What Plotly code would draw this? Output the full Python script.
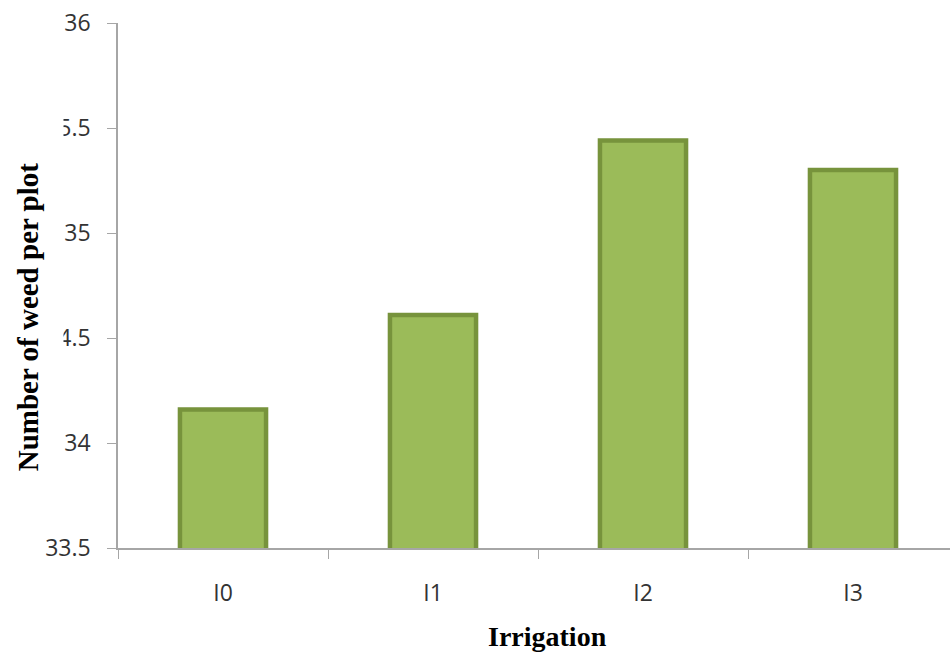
import plotly.graph_objects as go

categories = ["I0", "I1", "I2", "I3"]
weeds = [34.16, 34.61, 35.44, 35.30]
y_ticks = [33.5, 34, 34.5, 35, 35.5, 36]
y_ticktext = ["33.5", "34", "34.5", "35", "35.5", "36"]

W, H = 950, 655
ML, MR, MT, MB = 118, 0, 23, 107
pw = W - ML - MR
ph = H - MT - MB

fig = go.Figure(go.Bar(
    x=categories, y=weeds, width=0.41,
    marker=dict(color="#9BBB59", line=dict(color="#77933C", width=4.5)),
))

fig.update_layout(
    width=W, height=H,
    margin=dict(l=ML, r=MR, t=MT, b=MB, autoexpand=False),
    plot_bgcolor="white", paper_bgcolor="white",
    showlegend=False,
    xaxis=dict(
        type="category", range=[-0.5, -0.5 + pw / 210.0], automargin=False,
        tickson="boundaries", ticks="outside", ticklen=9, tickcolor="#A6A6A6",
        showline=True, linecolor="#A6A6A6", linewidth=1.5, showgrid=False,
        tickfont=dict(family="Open Sans", size=23, color="#333333"),
        ticklabelstandoff=24,
    ),
    yaxis=dict(
        range=[33.5, 36], tickvals=y_ticks, ticktext=y_ticktext, automargin=False,
        ticks="outside", ticklen=9, tickcolor="#A6A6A6",
        showline=True, linecolor="#A6A6A6", linewidth=1.5, showgrid=False,
        zeroline=False,
        tickfont=dict(family="Open Sans", size=23, color="#333333"),
        ticklabelstandoff=12,
    ),
    annotations=[
        dict(text="<b>Number of weed per plot</b>", textangle=-90,
             xref="paper", yref="paper",
             x=(28 - ML) / pw, y=(H - MB - 317) / ph,
             xanchor="center", yanchor="middle", showarrow=False,
             font=dict(family="Liberation Serif", size=29, color="black"),
             bgcolor="white", width=410, height=62, borderpad=4),
        dict(text="<b>Irrigation</b>",
             xref="paper", yref="paper",
             x=(547 - ML) / pw, y=(H - MB - 636) / ph,
             xanchor="center", yanchor="middle", showarrow=False,
             font=dict(family="Liberation Serif", size=28, color="black")),
    ],
)

fig.write_html(
    "out.html",
    config={"displayModeBar": False},
    post_script="document.body.style.margin='0';document.body.style.padding='0';",
)
